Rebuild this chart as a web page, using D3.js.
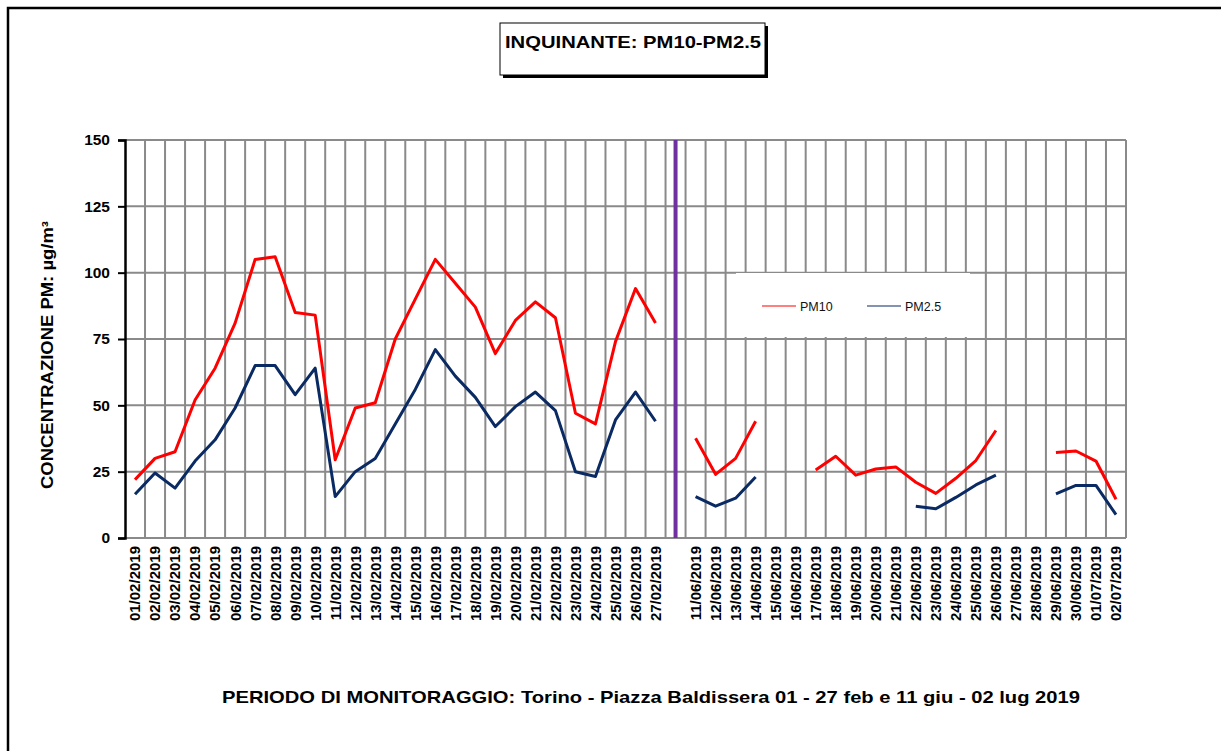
<!DOCTYPE html>
<html>
<head>
<meta charset="utf-8">
<script src="https://cdn.jsdelivr.net/npm/d3@7"></script>
<style>
  body { margin: 0; background: #fff; }
  svg { display: block; font-family: Arial, "Liberation Sans", sans-serif; }
</style>
</head>
<body>
<div id="chart"></div>
<script>
const width = 1221;
const height = 751;

// categories: Feb days, one blank slot (separator), then Jun/Jul days
const febDays = ["01/02/2019","02/02/2019","03/02/2019","04/02/2019","05/02/2019","06/02/2019","07/02/2019",
  "08/02/2019","09/02/2019","10/02/2019","11/02/2019","12/02/2019","13/02/2019","14/02/2019","15/02/2019",
  "16/02/2019","17/02/2019","18/02/2019","19/02/2019","20/02/2019","21/02/2019","22/02/2019","23/02/2019",
  "24/02/2019","25/02/2019","26/02/2019","27/02/2019"];
const junDays = ["11/06/2019","12/06/2019","13/06/2019","14/06/2019","15/06/2019","16/06/2019","17/06/2019",
  "18/06/2019","19/06/2019","20/06/2019","21/06/2019","22/06/2019","23/06/2019","24/06/2019","25/06/2019",
  "26/06/2019","27/06/2019","28/06/2019","29/06/2019","30/06/2019","01/07/2019","02/07/2019"];
const separator = "";
const categories = [...febDays, separator, ...junDays];

const pm10Feb = [22, 30, 32.5, 52, 64, 81, 105, 106, 85, 84, 29.5, 49, 51, 75, 90,
  105, 96, 87, 69.5, 82, 89, 83, 47, 43, 74, 94, 81];
const pm25Feb = [16.5, 24.5, 18.8, 29, 37, 49, 65, 65, 54, 64, 15.6, 25, 30, 43, 56,
  71, 61, 53, 42, 49.5, 55, 48, 25, 23.2, 44.5, 55, 44];
const pm10Jun = [37.6, 24, 30, 44, null, null, 25.6, 30.8, 23.7, 26, 26.8, 21, 16.8, 22.5, 29.2,
  40.5, null, null, 32.2, 32.8, 29, 14.6];
const pm25Jun = [15.6, 12, 15, 23, null, null, null, null, null, null, null, 12, 11, 15.3, 20,
  23.7, null, null, 16.6, 19.8, 19.8, 8.8];

const pm10 = [...pm10Feb, null, ...pm10Jun];
const pm25 = [...pm25Feb, null, ...pm25Jun];

const yTicks = [0, 25, 50, 75, 100, 125, 150];

const series = [
  { name: "PM10", values: pm10, color: "#ff0000" },
  { name: "PM2.5", values: pm25, color: "#0a2a63" }
];

const margin = { left: 125, right: 95, top: 140, bottom: 213 };
const plotW = width - margin.left - margin.right;
const plotH = height - margin.top - margin.bottom;

const svg = d3.select("#chart").append("svg")
  .attr("width", width)
  .attr("height", height);

// outer frame (top and left edges only)
svg.append("path")
  .attr("d", `M8,${height} L8,8 L${width},8`)
  .attr("fill", "none")
  .attr("stroke", "#000")
  .attr("stroke-width", 2.5);

// title box with shadow
svg.append("rect").attr("x", 503).attr("y", 26).attr("width", 265).attr("height", 52).attr("fill", "#000");
svg.append("rect").attr("x", 500).attr("y", 23).attr("width", 265).attr("height", 52)
  .attr("fill", "#fff").attr("stroke", "#000").attr("stroke-width", 1);
svg.append("text")
  .attr("x", 633).attr("y", 48)
  .attr("text-anchor", "middle")
  .attr("font-size", "16.5px")
  .attr("font-weight", "bold")
  .attr("textLength", 256)
  .attr("lengthAdjust", "spacingAndGlyphs")
  .text("INQUINANTE:  PM10-PM2.5");

const x = d3.scaleBand()
  .domain(categories)
  .range([margin.left, margin.left + plotW])
  .padding(0);

const y = d3.scaleLinear()
  .domain([0, 150])
  .range([margin.top + plotH, margin.top]);

const grid = svg.append("g").attr("class", "grid");

// vertical gridlines at category boundaries
grid.selectAll("line.v")
  .data(categories.slice(1).concat(["__end"]))
  .join("line")
  .attr("class", "v")
  .attr("x1", d => d === "__end" ? x.range()[1] : x(d))
  .attr("x2", d => d === "__end" ? x.range()[1] : x(d))
  .attr("y1", y(150))
  .attr("y2", y(0))
  .attr("stroke", "#8a8a8a")
  .attr("stroke-width", 2);

// horizontal gridlines
grid.selectAll("line.h")
  .data(yTicks)
  .join("line")
  .attr("class", "h")
  .attr("x1", margin.left)
  .attr("x2", x.range()[1])
  .attr("y1", d => y(d))
  .attr("y2", d => y(d))
  .attr("stroke", "#8a8a8a")
  .attr("stroke-width", 2);

// separator between the two monitoring periods
svg.append("line")
  .attr("x1", x(separator) + x.bandwidth() / 2)
  .attr("x2", x(separator) + x.bandwidth() / 2)
  .attr("y1", y(150))
  .attr("y2", y(0))
  .attr("stroke", "#7030a0")
  .attr("stroke-width", 4);

// y axis
const yAxis = svg.append("g")
  .attr("transform", `translate(${margin.left},0)`)
  .call(d3.axisLeft(y).tickValues(yTicks).tickSize(7).tickPadding(8));
yAxis.select(".domain").attr("stroke", "#000").attr("stroke-width", 2.5);
yAxis.selectAll(".tick line").attr("stroke", "#000").attr("stroke-width", 2);
yAxis.selectAll(".tick text")
  .attr("font-size", "15.5px")
  .attr("font-weight", "bold")
  .attr("fill", "#000")
  .attr("font-family", "Arial, 'Liberation Sans', sans-serif");

svg.append("text")
  .attr("transform", `translate(53,355) rotate(-90)`)
  .attr("text-anchor", "middle")
  .attr("font-size", "16px")
  .attr("font-weight", "bold")
  .attr("textLength", 268)
  .attr("lengthAdjust", "spacingAndGlyphs")
  .text("CONCENTRAZIONE PM:  µg/m³");

// x axis labels
const xAxis = svg.append("g")
  .attr("transform", `translate(0,${y(0)})`)
  .call(d3.axisBottom(x).tickSize(0).tickPadding(0));
xAxis.select(".domain").remove();
xAxis.selectAll(".tick text")
  .attr("transform", "rotate(-90)")
  .attr("text-anchor", "end")
  .attr("x", -8)
  .attr("y", 0)
  .attr("dy", "0.36em")
  .attr("font-size", "15px")
  .attr("font-weight", "bold")
  .attr("fill", "#000")
  .attr("font-family", "Arial, 'Liberation Sans', sans-serif");

// series lines
const line = d3.line()
  .defined(d => d.v != null)
  .x(d => x(d.c) + x.bandwidth() / 2)
  .y(d => y(d.v));

svg.append("g").selectAll("path.series")
  .data(series)
  .join("path")
  .attr("class", "series")
  .attr("fill", "none")
  .attr("stroke", d => d.color)
  .attr("stroke-width", 3)
  .attr("stroke-linejoin", "round")
  .attr("d", d => line(d.values.map((v, i) => ({ c: categories[i], v }))));

// legend
const legend = svg.append("g").attr("transform", "translate(736,273)");
legend.append("rect")
  .attr("width", 234).attr("height", 64)
  .attr("fill", "#fff");
series.forEach((s, i) => {
  const g = legend.append("g").attr("transform", `translate(${26 + i * 105},33)`);
  g.append("line").attr("x1", 0).attr("x2", 34).attr("stroke", s.color).attr("stroke-width", 1.2);
  g.append("text").attr("x", 38).attr("dy", "0.36em")
    .attr("font-size", "12.5px")
    .attr("fill", "#111")
    .text(s.name);
});

// bottom caption
svg.append("text")
  .attr("x", 651).attr("y", 703)
  .attr("text-anchor", "middle")
  .attr("font-size", "17px")
  .attr("font-weight", "bold")
  .attr("textLength", 858)
  .attr("lengthAdjust", "spacingAndGlyphs")
  .text("PERIODO DI MONITORAGGIO:  Torino - Piazza Baldissera 01 - 27 feb e 11 giu - 02 lug 2019");
</script>
</body>
</html>
